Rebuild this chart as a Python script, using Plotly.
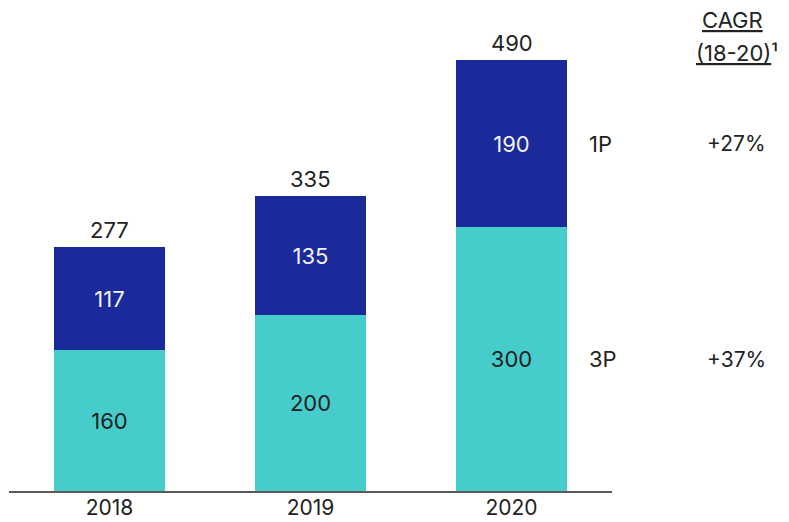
import plotly.graph_objects as go

# Revenue split by year (1P vs 3P)
years = ["2018", "2019", "2020"]
third_party = [160, 200, 300]
first_party = [117, 135, 190]
totals = [277, 335, 490]
segment_names = ["1P", "3P"]
cagr_values = ["+27%", "+37%"]

TEAL = "#47CCCC"
NAVY = "#1B2A9B"
INK = "#222222"
FONT = "Inter"

pos = list(range(len(years)))

fig = go.Figure()
fig.add_trace(go.Bar(
    x=pos, y=third_party, name="3P", marker_color=TEAL, width=0.552,
    marker_line_width=0,
    text=[str(v) for v in third_party], textposition="inside",
    insidetextanchor="middle", textangle=0,
    textfont=dict(color=INK, size=22, family=FONT),
))
fig.add_trace(go.Bar(
    x=pos, y=first_party, name="1P", marker_color=NAVY, width=0.552,
    marker_line_width=0,
    text=[str(v) for v in first_party], textposition="inside",
    insidetextanchor="middle", textangle=0,
    textfont=dict(color="#F2F2F2", size=22, family=FONT),
))

# totals above each stack
for p, tot in zip(pos, totals):
    fig.add_annotation(x=p, y=tot, text=str(tot), showarrow=False,
                       yanchor="bottom", yshift=2,
                       font=dict(color=INK, size=22, family=FONT))

# segment labels and growth rates at the right, aligned with the last stack
last = len(years) - 1
seg_mid = {
    "1P": third_party[last] + first_party[last] / 2,
    "3P": third_party[last] / 2,
}
for name, cagr in zip(segment_names, cagr_values):
    fig.add_annotation(xref="paper", x=0.958, y=seg_mid[name], text=name,
                       showarrow=False, xanchor="left",
                       font=dict(color=INK, size=22, family=FONT))
    fig.add_annotation(xref="paper", x=1.207, y=seg_mid[name], text=cagr,
                       showarrow=False, xanchor="center",
                       font=dict(color=INK, size=21, family=FONT))

# growth-rate column header
fig.add_annotation(xref="paper", yref="paper", x=1.200, y=1.0,
                   text="<u>CAGR</u>", showarrow=False,
                   xanchor="center", yanchor="middle",
                   font=dict(color=INK, size=22, family=FONT))
fig.add_annotation(xref="paper", yref="paper", x=1.207, y=1.0, yshift=-33,
                   text="<u>(18-20)</u>¹", showarrow=False,
                   xanchor="center", yanchor="middle",
                   font=dict(color=INK, size=22, family=FONT))

fig.update_layout(
    barmode="stack",
    width=789, height=522,
    margin=dict(l=9, r=177, t=20, b=31),
    paper_bgcolor="white", plot_bgcolor="white",
    showlegend=False,
    font=dict(family=FONT, color=INK),
)
fig.update_xaxes(
    range=[-0.5, 2.5], tickvals=pos, ticktext=years, automargin=False,
    showline=True, linecolor="#5a5a5a", linewidth=2,
    ticks="", showgrid=False, zeroline=False, ticklabelstandoff=-3,
    tickfont=dict(size=21, color=INK, family=FONT),
)
fig.update_yaxes(range=[0, 535.5], visible=False, showgrid=False,
                 automargin=False)

fig.write_html("out.html")
